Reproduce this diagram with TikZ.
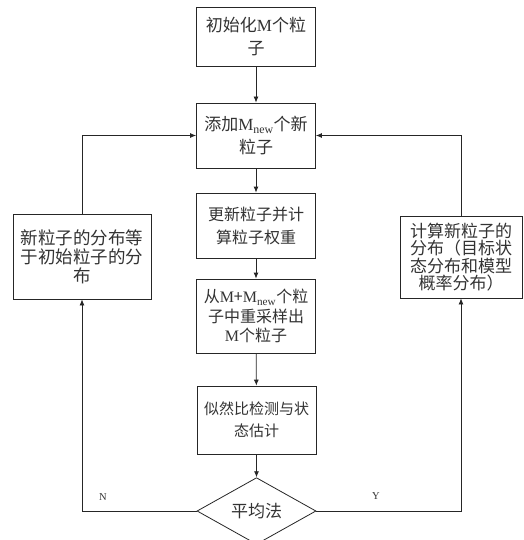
\documentclass[tikz,border=0pt]{standalone}
\usepackage{fontspec}
\setmainfont{Noto Sans CJK SC}
\newfontfamily\lat{Liberation Serif}
\usetikzlibrary{shapes.geometric,arrows.meta}
\newcommand{\Mn}{{\lat M\textsubscript{new}}}
\newcommand{\Mm}{{\lat M}}
\begin{document}
\begin{tikzpicture}[x=1pt,y=-1pt,
  box/.style={draw=black!85,line width=0.8pt,fill=white,align=center,inner sep=1pt,text=black!80,minimum width=119pt},
  link/.style={draw=black!85,line width=0.8pt,-{Latex[length=6pt,width=5pt]}},
  lab/.style={font=\lat\fontsize{10.5}{12}\selectfont,text=black!80}]
\useasboundingbox (0,0) rectangle (523,540);
\node[box,minimum height=59pt,font=\fontsize{17}{23}\selectfont] (b1) at (256,37) {初始化\Mm 个粒\\子};
\node[box,minimum height=65pt,font=\fontsize{17}{23}\selectfont] (b2) at (256,135.5) {添加\Mn 个新\\粒子};
\node[box,minimum height=65pt,font=\fontsize{16}{23}\selectfont] (b3) at (256,225.5) {更新粒子并计\\算粒子权重};
\node[box,minimum height=74pt,font=\fontsize{16}{19.5}\selectfont] (b4) at (256,316) {从\Mm+\Mn 个粒\\子中重采样出\\\Mm 个粒子};
\node[box,minimum height=68pt,font=\fontsize{15}{22}\selectfont] (b5) at (256.5,420) {似然比检测与状\\态估计};
\node[draw=black!85,line width=0.8pt,fill=white,diamond,minimum width=119pt,minimum height=62pt,inner sep=0pt,text=black!80,font=\fontsize{17}{20}\selectfont] (d) at (256.5,511) {平均法};
\node[box,minimum width=138pt,minimum height=85pt,font=\fontsize{17.5}{19}\selectfont] (L) at (82,256.5) {新粒子的分布等\\于初始粒子的分\\布};
\node[box,minimum width=122pt,minimum height=82pt,font=\fontsize{17}{17.5}\selectfont] (R) at (461,257) {计算新粒子的\\分布（目标状\\态分布和模型\\概率分布）};
\draw[link] (b1) -- (b2);
\draw[link] (b2) -- (b3);
\draw[link] (b3) -- (b4);
\draw[link] (b4) -- (b5);
\draw[link] (b5) -- (d);
\draw[link] (d.west) -| (L.south);
\draw[link] (L.north) |- (b2.west);
\draw[link] (d.east) -| (R.south);
\draw[link] (R.north) |- (b2.east);
\node[lab] (n) at (103,497) {N};
\node[lab] (y) at (376,496) {Y};
\end{tikzpicture}
\end{document}
